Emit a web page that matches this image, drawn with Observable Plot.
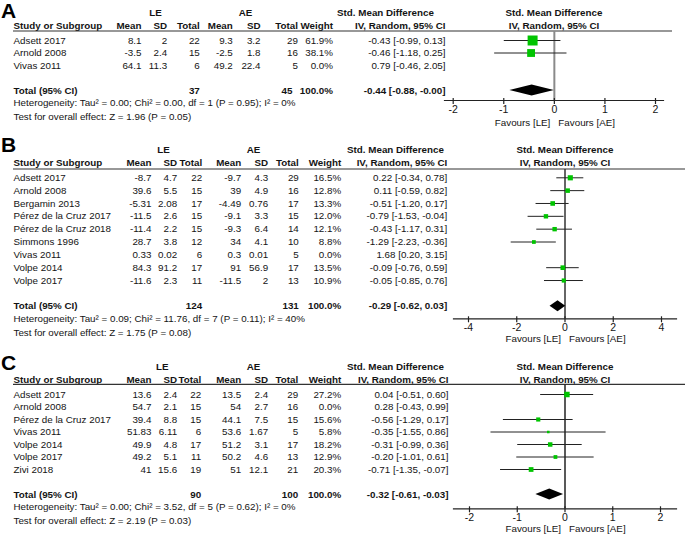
<!DOCTYPE html>
<html>
<head>
<meta charset="utf-8">
<script src="https://cdn.jsdelivr.net/npm/d3@7"></script>
<script src="https://cdn.jsdelivr.net/npm/@observablehq/plot@0.6"></script>
<style>
  html, body { margin: 0; padding: 0; background: #fff; }
  #chart svg { display: block; }
</style>
</head>
<body>
<div id="chart"></div>
<script>
// ---------------- Panel A ----------------
const A_study  = ["Adsett 2017", "Arnold 2008", "Vivas 2011"];
const A_leMean = [8.1, -3.5, 64.1];
const A_leSD   = [2, 2.4, 11.3];
const A_leN    = [22, 15, 6];
const A_aeMean = [9.3, -2.5, 49.2];
const A_aeSD   = [3.2, 1.8, 22.4];
const A_aeN    = [29, 16, 5];
const A_weight = [61.9, 38.1, 0.0];
const A_smd    = [-0.43, -0.46, 0.79];
const A_lo     = [-0.99, -1.18, -0.46];
const A_hi     = [0.13, 0.25, 2.05];
const A_total  = [37, 45];              // LE total, AE total
const A_pooled = [-0.44, -0.88, -0.00]; // estimate, lower, upper
const A_het    = "Heterogeneity: Tau² = 0.00; Chi² = 0.00, df = 1 (P = 0.95); I² = 0%";
const A_test   = "Test for overall effect: Z = 1.96 (P = 0.05)";
const A_ticks  = [-2, -1, 0, 1, 2];

// ---------------- Panel B ----------------
const B_study  = ["Adsett 2017", "Arnold 2008", "Bergamin 2013", "Pérez de la Cruz 2017", "Pérez de la Cruz 2018", "Simmons 1996", "Vivas 2011", "Volpe 2014", "Volpe 2017"];
const B_leMean = [-8.7, 39.6, -5.31, -11.5, -11.4, 28.7, 0.33, 84.3, -11.6];
const B_leSD   = [4.7, 5.5, 2.08, 2.6, 2.2, 3.8, 0.02, 91.2, 2.3];
const B_leN    = [22, 15, 17, 15, 15, 12, 6, 17, 11];
const B_aeMean = [-9.7, 39, -4.49, -9.1, -9.3, 34, 0.3, 91, -11.5];
const B_aeSD   = [4.3, 4.9, 0.76, 3.3, 6.4, 4.1, 0.01, 56.9, 2];
const B_aeN    = [29, 16, 17, 15, 14, 10, 5, 17, 13];
const B_weight = [16.5, 12.8, 13.3, 12.0, 12.1, 8.8, 0.0, 13.5, 10.9];
const B_smd    = [0.22, 0.11, -0.51, -0.79, -0.43, -1.29, 1.68, -0.09, -0.05];
const B_lo     = [-0.34, -0.59, -1.20, -1.53, -1.17, -2.23, 0.20, -0.76, -0.85];
const B_hi     = [0.78, 0.82, 0.17, -0.04, 0.31, -0.36, 3.15, 0.59, 0.76];
const B_total  = [124, 131];
const B_pooled = [-0.29, -0.62, 0.03];
const B_het    = "Heterogeneity: Tau² = 0.09; Chi² = 11.76, df = 7 (P = 0.11); I² = 40%";
const B_test   = "Test for overall effect: Z = 1.75 (P = 0.08)";
const B_ticks  = [-4, -2, 0, 2, 4];

// ---------------- Panel C ----------------
const C_study  = ["Adsett 2017", "Arnold 2008", "Pérez de la Cruz 2017", "Vivas 2011", "Volpe 2014", "Volpe 2017", "Zivi 2018"];
const C_leMean = [13.6, 54.7, 39.4, 51.83, 49.9, 49.2, 41];
const C_leSD   = [2.4, 2.1, 8.8, 6.11, 4.8, 5.1, 15.6];
const C_leN    = [22, 15, 15, 6, 17, 11, 19];
const C_aeMean = [13.5, 54, 44.1, 53.6, 51.2, 50.2, 51];
const C_aeSD   = [2.4, 2.7, 7.5, 1.67, 3.1, 4.6, 12.1];
const C_aeN    = [29, 16, 15, 5, 17, 13, 21];
const C_weight = [27.2, 0.0, 15.6, 5.8, 18.2, 12.9, 20.3];
const C_smd    = [0.04, 0.28, -0.56, -0.35, -0.31, -0.20, -0.71];
const C_lo     = [-0.51, -0.43, -1.29, -1.55, -0.99, -1.01, -1.35];
const C_hi     = [0.60, 0.99, 0.17, 0.86, 0.36, 0.61, -0.07];
const C_total  = [90, 100];
const C_pooled = [-0.32, -0.61, -0.03];
const C_het    = "Heterogeneity: Tau² = 0.00; Chi² = 3.52, df = 5 (P = 0.62); I² = 0%";
const C_test   = "Test for overall effect: Z = 2.19 (P = 0.03)";
const C_ticks  = [-2, -1, 0, 1, 2];

const colHeaders = ["Mean", "SD", "Total", "Mean", "SD", "Total", "Weight", "IV, Random, 95% CI"];
const colKeys    = ["leMean", "leSD", "leN", "aeMean", "aeSD", "aeN", "weight", "ci"];

// --------------- helpers ---------------
const FONT = "'Liberation Sans', Arial, Helvetica, sans-serif";
const INK = "#141414";
const GREEN = "#00c400";
const W = 685;

function f2(v) { return ((v < 0 || Object.is(v, -0)) ? "-" : "") + Math.abs(v).toFixed(2); }
function ciText(e, l, h) { return `${f2(e)} [${f2(l)}, ${f2(h)}]`; }

function panel(cfg, L) {
  const n = cfg.study.length;
  const rows = cfg.study.map((s, i) => ({
    i, study: s,
    leMean: String(cfg.leMean[i]), leSD: String(cfg.leSD[i]), leN: String(cfg.leN[i]),
    aeMean: String(cfg.aeMean[i]), aeSD: String(cfg.aeSD[i]), aeN: String(cfg.aeN[i]),
    weight: cfg.weight[i].toFixed(1) + "%",
    w: cfg.weight[i], smd: cfg.smd[i], lo: cfg.lo[i], hi: cfg.hi[i],
    ci: ciText(cfg.smd[i], cfg.lo[i], cfg.hi[i])
  }));
  const drawn = rows.filter(d => d.w > 0);
  const HDR1 = -2.2, HDR2 = -1.17, TOT = n + 1, HET = n + 2, TEST = n + 3.08;
  const hd = 5.5 / L.step; // diamond half height in row units
  const [est, plo, phi] = cfg.pooled;
  const diamond = [
    {x: plo, y1: TOT, y2: TOT},
    {x: est, y1: TOT - hd, y2: TOT + hd},
    {x: phi, y1: TOT, y2: TOT}
  ];
  const at = px => px - L.left; // dx from the frame's left edge
  const T = (data, o) => Plot.text(data, {lineAnchor: "middle", fill: INK, ...o});
  const marks = [];

  // panel letter
  marks.push(T([cfg.letter], {y: () => HDR1, frameAnchor: "left", dx: at(0.5), dy: L.letterDy,
    textAnchor: "start", fontSize: 21, fontWeight: "bold", fill: "#000"}));

  // header row 1
  [["LE", L.le], ["AE", L.ae], ["Std. Mean Difference", L.smdH]].forEach(([t, px]) => {
    marks.push(T([t], {y: () => HDR1, frameAnchor: "left", dx: at(px), textAnchor: "middle", fontWeight: "bold"}));
  });
  marks.push(T(["Std. Mean Difference"], {y: () => HDR1, frameAnchor: "middle", textAnchor: "middle", fontWeight: "bold"}));

  // header row 2
  marks.push(T(["Study or Subgroup"], {y: () => HDR2, frameAnchor: "left", dx: at(13), textAnchor: "start", fontWeight: "bold"}));
  colHeaders.forEach((h, k) => {
    marks.push(T([h], {y: () => HDR2, frameAnchor: "left", dx: at(L.cols[k]), textAnchor: "end", fontWeight: "bold"}));
  });
  marks.push(T(["IV, Random, 95% CI"], {y: () => HDR2, frameAnchor: "middle", textAnchor: "middle", fontWeight: "bold"}));

  // header rule across table and plot
  marks.push((index, scales, values, dims) => {
    const l = document.createElementNS("http://www.w3.org/2000/svg", "line");
    l.setAttribute("x1", 13); l.setAttribute("x2", L.lineEnd);
    l.setAttribute("y1", dims.marginTop); l.setAttribute("y2", dims.marginTop);
    l.setAttribute("stroke", "#333"); l.setAttribute("stroke-width", 1.2);
    return l;
  });

  // study rows
  marks.push(T(rows, {y: "i", text: "study", frameAnchor: "left", dx: at(13), textAnchor: "start"}));
  colKeys.forEach((key, k) => {
    marks.push(T(rows, {y: "i", text: key, frameAnchor: "left", dx: at(L.cols[k]), textAnchor: "end"}));
  });

  // total row
  const totalCells = [
    ["Total (95% CI)", 13, "start"],
    [String(cfg.total[0]), L.cols[2], "end"],
    [String(cfg.total[1]), L.totAe ?? L.cols[5], "end"],
    ["100.0%", L.cols[6], "end"],
    [ciText(est, plo, phi), L.cols[7], "end"]
  ];
  totalCells.forEach(([t, px, anchor]) => {
    marks.push(T([t], {y: () => TOT, frameAnchor: "left", dx: at(px), textAnchor: anchor, fontWeight: "bold"}));
  });
  marks.push(T([cfg.het], {y: () => HET, frameAnchor: "left", dx: at(13), textAnchor: "start"}));
  marks.push(T([cfg.test], {y: () => TEST, frameAnchor: "left", dx: at(13), textAnchor: "start"}));

  // forest plot
  marks.push(Plot.ruleX([0], {stroke: L.zeroStroke, strokeWidth: L.zeroWidth}));
  marks.push(Plot.ruleY(drawn, {y: "i", x1: "lo", x2: "hi", stroke: "#222", strokeWidth: 1}));
  marks.push(Plot.dot(drawn, {x: "smd", y: "i", r: "w", symbol: "square", fill: GREEN, stroke: null}));
  marks.push(Plot.areaY(diamond, {x: "x", y1: "y1", y2: "y2", fill: "#000", curve: "linear"}));
  marks.push(Plot.frame({anchor: "bottom", stroke: "#222", strokeWidth: 1.2}));
  marks.push(Plot.axisX({ticks: cfg.ticks, tickSize: 6, dy: -2, tickPadding: 1, tickFormat: d => String(d),
    fontSize: 10.5, fill: INK, stroke: "#222", strokeWidth: 1.2}));
  marks.push(T(["Favours [LE]"], {x: () => 0, frameAnchor: "bottom", dy: L.favDy, dx: -4, textAnchor: "end"}));
  marks.push(T(["Favours [AE]"], {x: () => 0, frameAnchor: "bottom", dy: L.favDy, dx: 4, textAnchor: "start"}));

  return Plot.plot({
    width: W,
    height: L.H,
    marginLeft: L.left,
    marginRight: W - L.right,
    marginTop: L.lineY,
    marginBottom: L.H - L.axisY,
    x: {domain: [cfg.ticks[0], cfg.ticks[cfg.ticks.length - 1]], insetLeft: L.insetL, insetRight: L.insetR, axis: null},
    y: {type: "linear", domain: [0, n - 1], range: [L.row0, L.row0 + (n - 1) * L.step], axis: null},
    r: {type: "sqrt", domain: [0, d3.max(cfg.weight)], range: [0, L.rMax]},
    style: {fontFamily: FONT, fontSize: "9.8px", color: INK, background: "#fff", overflow: "visible"},
    marks
  });
}

const panels = [
  [{letter: "A", study: A_study, leMean: A_leMean, leSD: A_leSD, leN: A_leN, aeMean: A_aeMean, aeSD: A_aeSD, aeN: A_aeN,
    weight: A_weight, smd: A_smd, lo: A_lo, hi: A_hi, total: A_total, pooled: A_pooled, het: A_het, test: A_test, ticks: A_ticks},
   {H: 128, left: 444, right: 663, lineY: 31, axisY: 100, row0: 40, step: 12.5, insetL: 8.7, insetR: 8,
    rMax: 5.64, zeroStroke: "#8a8a8a", zeroWidth: 2, lineEnd: 672, favDy: 22.5, letterDy: -1.5,
    cols: [141, 166.7, 199.3, 232.3, 260, 297.5, 332.5, 445], totAe: 292, le: 155, ae: 245, smdH: 385}],
  [{letter: "B", study: B_study, leMean: B_leMean, leSD: B_leSD, leN: B_leN, aeMean: B_aeMean, aeSD: B_aeSD, aeN: B_aeN,
    weight: B_weight, smd: B_smd, lo: B_lo, hi: B_hi, total: B_total, pooled: B_pooled, het: B_het, test: B_test, ticks: B_ticks},
   {H: 213, left: 453, right: 676, lineY: 41, axisY: 190.3, row0: 49.3, step: 12.84, insetL: 15, insetR: 15,
    rMax: 2.9, zeroStroke: "#333", zeroWidth: 1.5, lineEnd: 685, favDy: 20, letterDy: -4,
    cols: [151, 176.7, 201.7, 240.7, 267.7, 298.3, 340.7, 446.7], le: 163, ae: 253, smdH: 395}],
  [{letter: "C", study: C_study, leMean: C_leMean, leSD: C_leSD, leN: C_leN, aeMean: C_aeMean, aeSD: C_aeSD, aeN: C_aeN,
    weight: C_weight, smd: C_smd, lo: C_lo, hi: C_hi, total: C_total, pooled: C_pooled, het: C_het, test: C_test, ticks: C_ticks},
   {H: 193, left: 453, right: 676, lineY: 43.3, axisY: 167.3, row0: 53, step: 12.5, insetL: 16, insetR: 16,
    rMax: 3.1, zeroStroke: "#222", zeroWidth: 1.5, lineEnd: 685, favDy: 20.5, letterDy: -4,
    cols: [151, 176.7, 200.7, 240.7, 267.7, 297.7, 340.7, 448], le: 161.7, ae: 253, smdH: 395}]
];

const root = document.getElementById("chart");
panels.forEach(([cfg, L]) => root.appendChild(panel(cfg, L)));
</script>
</body>
</html>
